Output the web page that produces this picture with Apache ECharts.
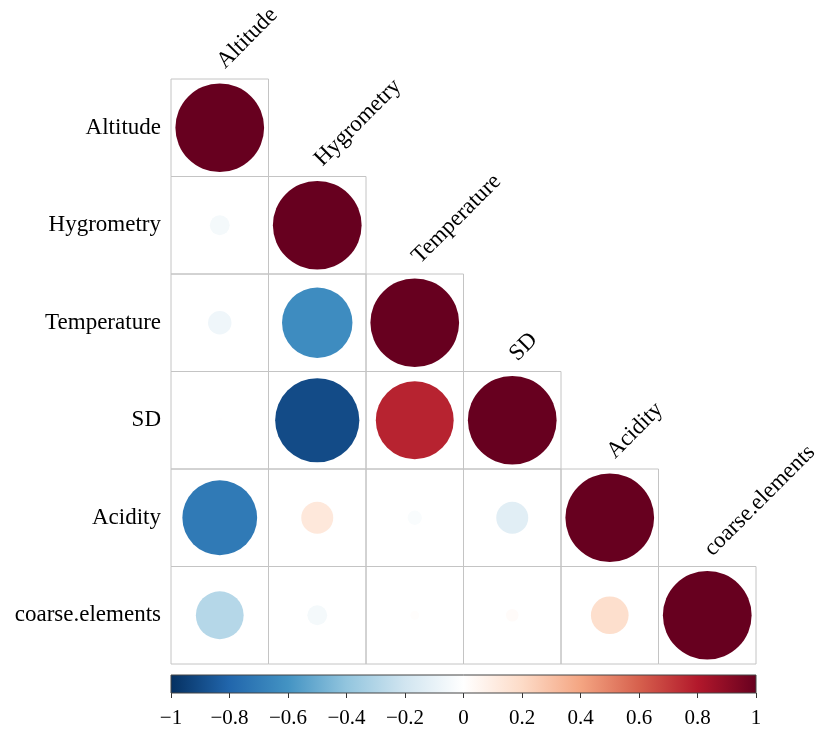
<!DOCTYPE html>
<html><head><meta charset="utf-8">
<script src="https://cdn.jsdelivr.net/npm/echarts@6/dist/echarts.min.js"></script>
<style>html,body{margin:0;padding:0;background:#fff}#c{width:821px;height:729px}</style>
</head><body><div id="c"></div>
<script>
const variables = ['Altitude','Hygrometry','Temperature','SD','Acidity','coarse.elements'];
// lower-triangle correlations, row i, col j (j<=i)
const corrRows = [
  [1],
  [-0.05, 1],
  [-0.07, -0.63, 1],
  [0.003, -0.90, 0.77, 1],
  [-0.71, 0.13, -0.026, -0.13, 1],
  [-0.29, -0.05, 0.01, 0.02, 0.18, 1]
];
const colorbarTicks = [-1,-0.8,-0.6,-0.4,-0.2,0,0.2,0.4,0.6,0.8,1];
const palette = ['#053061','#2166AC','#4393C3','#92C5DE','#D1E5F0','#FFFFFF','#FDDBC7','#F4A582','#D6604D','#B2182B','#67001F'];

const cellData = [];
corrRows.forEach((row,i)=>row.forEach((v,j)=>cellData.push([j,i,v])));
const diagData = variables.map((v,i)=>[i,i]);
const FONT = 'Liberation Serif';
const FS = 23;

const chart = echarts.init(document.getElementById('c'));
chart.setOption({
  animation:false,
  backgroundColor:'#fff',
  grid:[
    {left:171, top:79, width:585, height:585},
    {left:171, top:675, width:585, height:18}
  ],
  xAxis:[
    {gridIndex:0, type:'category', data:variables, show:false},
    {gridIndex:1, type:'value', min:colorbarTicks[0], max:colorbarTicks[colorbarTicks.length-1], interval:0.2,
     axisLine:{show:false}, splitLine:{show:false},
     axisTick:{show:true, length:5, lineStyle:{color:'#333'}},
     axisLabel:{margin:15, color:'#000', fontFamily:FONT, fontSize:21,
       formatter:v=>{const n=Number(v.toFixed(1)); return String(n).replace('-','\u2212');}}}
  ],
  yAxis:[
    {gridIndex:0, type:'category', data:variables, inverse:true,
     axisLine:{show:false}, axisTick:{show:false}, splitLine:{show:false},
     axisLabel:{margin:10, color:'#000', fontFamily:FONT, fontSize:FS}},
    {gridIndex:1, type:'value', min:0, max:1, show:false}
  ],
  visualMap:{show:false, type:'continuous', min:-1, max:1, dimension:2, seriesIndex:1, inRange:{color:palette}},
  series:[
    {type:'custom', xAxisIndex:0, yAxisIndex:0, data:cellData, silent:true,
     renderItem:(params,api)=>{
       const c=api.coord([api.value(0),api.value(1)]); const s=api.size([1,1]);
       return {type:'rect', shape:{x:c[0]-s[0]/2, y:c[1]-s[1]/2, width:s[0], height:s[1]},
         style:{fill:'none', stroke:'#C4C4C4', lineWidth:1}};
     }},
    {type:'custom', xAxisIndex:0, yAxisIndex:0, data:cellData, silent:true,
     renderItem:(params,api)=>{
       const c=api.coord([api.value(0),api.value(1)]); const s=api.size([1,1]);
       const r=0.455*s[0]*Math.sqrt(Math.abs(api.value(2)));
       return {type:'circle', shape:{cx:c[0], cy:c[1], r:r}, style:{fill:api.visual('color')}};
     }},
    {type:'custom', xAxisIndex:0, yAxisIndex:0, data:diagData, silent:true, clip:false,
     renderItem:(params,api)=>{
       const c=api.coord([api.value(0),api.value(1)]); const s=api.size([1,1]);
       return {type:'text', x:c[0]+9, y:c[1]-s[1]/2-6, rotation:Math.PI/4,
         style:{text:variables[params.dataIndex], fill:'#000', font:FS+'px "'+FONT+'"', align:'left', verticalAlign:'bottom'}};
     }},
    {type:'custom', xAxisIndex:1, yAxisIndex:1, data:[[0,0]], silent:true, clip:false,
     renderItem:(params,api)=>{
       const p0=api.coord([-1,1]); const p1=api.coord([1,0]);
       const stops=palette.map((col,k)=>({offset:k/(palette.length-1), color:col}));
       return {type:'rect', shape:{x:p0[0], y:p0[1], width:p1[0]-p0[0], height:p1[1]-p0[1]},
         style:{fill:new echarts.graphic.LinearGradient(0,0,1,0,stops), stroke:'#444', lineWidth:1}};
     }}
  ]
});
</script></body></html>
